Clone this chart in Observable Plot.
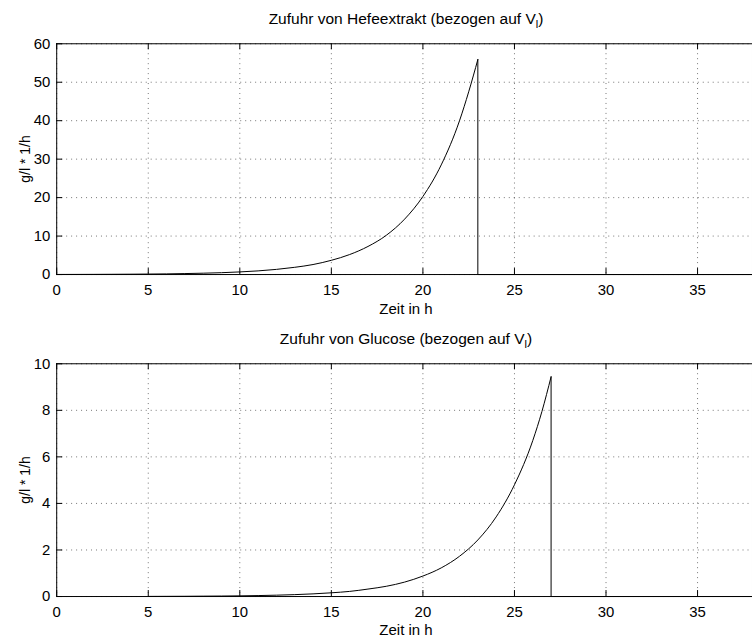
<!DOCTYPE html>
<html><head><meta charset="utf-8">
<script src="https://cdn.jsdelivr.net/npm/d3@7"></script>
<script src="https://cdn.jsdelivr.net/npm/@observablehq/plot@0.6"></script>
<style>
html,body{margin:0;padding:0;background:#fff;overflow:hidden;}
#wrap{position:relative;width:752px;height:641px;overflow:hidden;font-family:"Liberation Sans",Arial,Helvetica,sans-serif;color:#000;background:#fff;}
.lbl{position:absolute;font-size:15px;white-space:nowrap;transform:translate(-50%,-50%);line-height:1;}
.ttl{position:absolute;font-size:15.5px;white-space:nowrap;transform:translate(-50%,-50%);line-height:1;}
.ylbl{position:absolute;font-size:14px;white-space:nowrap;transform:translate(-50%,-50%) rotate(-90deg);line-height:1;}
.ttl sub{font-size:11px;vertical-align:-4px;line-height:0;}
.panel{position:absolute;left:0;}
</style></head><body><div id="wrap"></div>
<script>
// ---- data ----
const xTicks = [0, 5, 10, 15, 20, 25, 30, 35];
const xDomain = [0, 38];
const hefeTicks = [0, 10, 20, 30, 40, 50, 60];
const glucTicks = [0, 2, 4, 6, 8, 10];

const hefeT = [0,1,2,3,4,5,6,7,8,9,10,11,12,13,14,15,16,17,18,19,20,21,22,22.5,23];
const hefeV = [0.023,0.032,0.045,0.063,0.089,0.124,0.17,0.25,0.35,0.48,0.68,0.95,1.34,1.88,2.6,3.7,5.2,7.3,10.2,14.4,20.3,28.5,40.0,47.5,55.9];
const hefeDropT = [23, 23, 38];
const hefeDropV = [55.9, 0, 0];

const glucT = [5,6,7,8,9,10,11,12,13,14,15,16,17,18,19,20,21,22,23,24,25,26,26.5,27];
const glucV = [0.0053,0.0079,0.011,0.016,0.021,0.029,0.041,0.058,0.081,0.114,0.16,0.22,0.32,0.44,0.62,0.88,1.23,1.73,2.43,3.42,4.8,6.7,7.95,9.44];
const glucDropT = [27, 27, 38];
const glucDropV = [9.44, 0, 0];

const titles = ["Zufuhr von Hefeextrakt (bezogen auf V", "Zufuhr von Glucose (bezogen auf V"];
const xLabel = "Zeit in h";
const yLabel = "g/l * 1/h";

// ---- drawing ----
const wrap = document.getElementById("wrap");
const W = 756, ML = 56.5, MR = 0, TL = 6;

function panel(top, H, MT, MB, yDomain, yTicks, T, V, DT, DV) {
  const fh = H - MT - MB, fw = W - ML - MR;
  const pts = T.map((t, i) => ({t, v: V[i]}));
  const drop = DT.map((t, i) => ({t, v: DV[i]}));
  const chart = Plot.plot({
    width: W, height: H,
    marginLeft: ML, marginRight: MR, marginTop: MT, marginBottom: MB,
    style: {fontFamily: '"Liberation Sans", Arial, Helvetica, sans-serif', fontSize: "15px", color: "#000", background: "transparent", overflow: "visible"},
    x: {domain: xDomain},
    y: {domain: yDomain},
    marks: [
      Plot.gridX(xTicks, {stroke: "#000", strokeOpacity: 0.55, strokeDasharray: "1,4"}),
      Plot.gridY(yTicks, {stroke: "#000", strokeOpacity: 0.55, strokeDasharray: "1,4"}),
      Plot.line(pts, {x: "t", y: "v", curve: "monotone-x", stroke: "#000", strokeWidth: 1}),
      Plot.line(drop, {x: "t", y: "v", stroke: "#000", strokeWidth: 1}),
      Plot.tickX(xTicks, {x: d => d, insetTop: fh - TL, stroke: "#000"}),
      Plot.tickX(xTicks, {x: d => d, insetBottom: fh - TL, stroke: "#000"}),
      Plot.tickY(yTicks, {y: d => d, insetRight: fw - TL, stroke: "#000"}),
      Plot.axisX(xTicks, {tickSize: 0, tickPadding: 10, label: null, fill: "#000", fontSize: 15}),
      Plot.axisY(yTicks, {tickSize: 0, tickPadding: 6.5, label: null, fill: "#000", fontSize: 15}),
      Plot.frame({stroke: "#000", strokeWidth: 1})
    ]
  });
  chart.classList.add("panel");
  chart.style.top = top + "px";
  wrap.appendChild(chart);
}

panel(0, 318, 43.5, 42.5, [0, 60], hefeTicks, hefeT, hefeV, hefeDropT, hefeDropV);
panel(320, 321, 43.5, 43.5, [0, 10], glucTicks, glucT, glucV, glucDropT, glucDropV);

function addText(cls, html, x, y) {
  const d = document.createElement("div");
  d.className = cls;
  d.innerHTML = html;
  d.style.left = x + "px";
  d.style.top = y + "px";
  wrap.appendChild(d);
}
const cx = 406;
addText("ttl", titles[0] + "<sub>l</sub>)", cx, 19);
addText("ttl", titles[1] + "<sub>l</sub>)", cx, 339);
addText("lbl", xLabel, cx, 308);
addText("lbl", xLabel, cx, 629);
addText("ylbl", yLabel, 25, 159);
addText("ylbl", yLabel, 25, 480);
</script></body></html>
